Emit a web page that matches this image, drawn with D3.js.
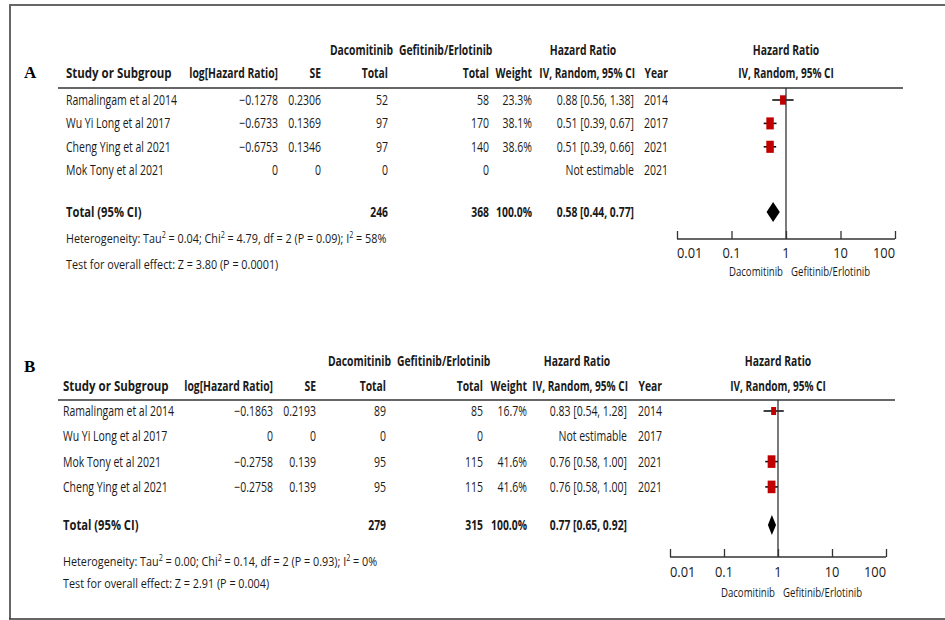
<!DOCTYPE html>
<html>
<head>
<meta charset="utf-8">
<script src="https://cdn.jsdelivr.net/npm/d3@7"></script>
<style>
  body { margin: 0; background: #fff; }
  svg { display: block; }
</style>
</head>
<body>
<svg id="chart" width="945" height="620"></svg>
<script>
// ---- Panel A data ----
const studiesA = ["Ramalingam et al 2014", "Wu Yi Long et al 2017", "Cheng Ying et al 2021", "Mok Tony et al 2021"];
const logHrA   = [-0.1278, -0.6733, -0.6753, 0];
const seA      = [0.2306, 0.1369, 0.1346, 0];
const dacA     = [52, 97, 97, 0];
const gefA     = [58, 170, 140, 0];
const weightA  = [23.3, 38.1, 38.6, null];
const hrA      = [0.88, 0.51, 0.51, null];
const loA      = [0.56, 0.39, 0.39, null];
const hiA      = [1.38, 0.67, 0.66, null];
const yearA    = [2014, 2017, 2021, 2021];
const totalA   = { dac: 246, gef: 368, weight: 100.0, hr: 0.58, lo: 0.44, hi: 0.77 };
const hetA     = { tau2: "0.04", chi2: "4.79", df: 2, p: "0.09", i2: "58", z: "3.80", pz: "0.0001" };

// ---- Panel B data ----
const studiesB = ["Ramalingam et al 2014", "Wu Yi Long et al 2017", "Mok Tony et al 2021", "Cheng Ying et al 2021"];
const logHrB   = [-0.1863, 0, -0.2758, -0.2758];
const seB      = [0.2193, 0, 0.139, 0.139];
const dacB     = [89, 0, 95, 95];
const gefB     = [85, 0, 115, 115];
const weightB  = [16.7, null, 41.6, 41.6];
const hrB      = [0.83, null, 0.76, 0.76];
const loB      = [0.54, null, 0.58, 0.58];
const hiB      = [1.28, null, 1.00, 1.00];
const yearB    = [2014, 2017, 2021, 2021];
const totalB   = { dac: 279, gef: 315, weight: 100.0, hr: 0.77, lo: 0.65, hi: 0.92 };
const hetB     = { tau2: "0.00", chi2: "0.14", df: 2, p: "0.93", i2: "0", z: "2.91", pz: "0.004" };

// ---- Axis ticks and labels ----
const tickValues = [0.01, 0.1, 1, 10, 100];
const tickLabels = ["0.01", "0.1", "1", "10", "100"];
const groupLabels = ["Dacomitinib", "Gefitinib/Erlotinib"];

const svg = d3.select("#chart");
const FONT = "'Open Sans', sans-serif";
const SX = 0.75;          // horizontal squeeze of the table lettering
const INK = "#1a1a1a";

// Text helper: anchored at (x, y), squeezed horizontally about its anchor
function txt(g, x, y, s, opt = {}) {
  const t = g.append("text")
    .attr("transform", `translate(${x},${y}) scale(${opt.sx || SX},1)`)
    .attr("dy", "0.35em")
    .attr("text-anchor", opt.anchor || "start")
    .attr("font-family", opt.family || FONT)
    .attr("font-size", opt.size || 14)
    .attr("font-weight", opt.bold ? "bold" : "normal")
    .attr("fill", opt.fill || INK);
  if (s !== null) t.text(s);
  return t;
}

const f2 = d3.format(".2f");
const f1 = d3.format(".1f");
const numTxt = v => v === 0 ? "0" : String(v).replace("-", "\u2212");
const ciTxt = (h, l, u) => `${f2(h)} [${f2(l)}, ${f2(u)}]`;

// Outer frame
svg.append("line").attr("x1", 10).attr("x2", 945).attr("y1", 5).attr("y2", 5)
  .attr("stroke", "#666").attr("stroke-width", 2);
svg.append("line").attr("x1", 10).attr("x2", 10).attr("y1", 4).attr("y2", 619)
  .attr("stroke", "#666").attr("stroke-width", 2);
svg.append("line").attr("x1", 9).attr("x2", 945).attr("y1", 619).attr("y2", 619)
  .attr("stroke", "#333").attr("stroke-width", 1.5);

function panel(cfg, d) {
  const g = svg.append("g");
  const c = cfg.cols;
  const x = d3.scaleLog().domain([0.01, 100]).range([c.plot0, c.plot1]);
  const xOne = x(1);

  // panel letter
  txt(g, cfg.labelX, cfg.labelY, cfg.label, { family: "'Liberation Serif', serif", bold: true, size: 17, sx: 1, fill: "#000" });

  // group headers
  const hb = { bold: true, sx: 0.74 };
  txt(g, c.dac + 5, cfg.groupY, groupLabels[0], { ...hb, anchor: "end" });
  txt(g, c.dac + 11, cfg.groupY, groupLabels[1], hb);
  txt(g, cfg.hrHeadX, cfg.groupY, "Hazard Ratio", { ...hb, anchor: "middle" });
  txt(g, xOne, cfg.groupY, "Hazard Ratio", { ...hb, anchor: "middle" });

  // column headers
  const hy = cfg.headY;
  txt(g, c.study, hy, "Study or Subgroup", { ...hb, sx: 0.82 });
  txt(g, c.logHr, hy, "log[Hazard Ratio]", { ...hb, anchor: "end" });
  txt(g, c.se, hy, "SE", { ...hb, anchor: "end" });
  txt(g, c.dac, hy, "Total", { ...hb, anchor: "end" });
  txt(g, c.gef, hy, "Total", { ...hb, anchor: "end" });
  txt(g, c.weight, hy, "Weight", { ...hb, anchor: "end" });
  txt(g, c.ci + 1, hy, "IV, Random, 95% CI", { ...hb, anchor: "end", sx: 0.72 });
  txt(g, c.year, hy, "Year", { ...hb, anchor: "end" });
  txt(g, xOne, hy, "IV, Random, 95% CI", { ...hb, anchor: "middle", sx: 0.72 });

  g.append("line").attr("x1", cfg.lineX0).attr("x2", cfg.lineX1)
    .attr("y1", cfg.lineY).attr("y2", cfg.lineY)
    .attr("stroke", "#333").attr("stroke-width", 1.5);

  // study rows
  const rowY = i => cfg.rowY0 + i * cfg.rowStep;
  const boxH = d3.scaleSqrt().domain([0, 100]).range([0, 19.5]);
  d.studies.forEach((s, i) => {
    const y = rowY(i);
    txt(g, c.study, y, s);
    txt(g, c.logHr, y, numTxt(d.logHr[i]), { anchor: "end" });
    txt(g, c.se, y, numTxt(d.se[i]), { anchor: "end" });
    txt(g, c.dac, y, String(d.dac[i]), { anchor: "end" });
    txt(g, c.gef, y, String(d.gef[i]), { anchor: "end" });
    if (d.weight[i] !== null) txt(g, c.weight, y, f1(d.weight[i]) + "%", { anchor: "end" });
    txt(g, c.ci, y, d.hr[i] !== null ? ciTxt(d.hr[i], d.lo[i], d.hi[i]) : "Not estimable", { anchor: "end" });
    txt(g, c.year, y, String(d.year[i]), { anchor: "end" });

    if (d.hr[i] !== null) {
      g.append("line").attr("x1", x(d.lo[i])).attr("x2", x(d.hi[i]))
        .attr("y1", y).attr("y2", y).attr("stroke", "#111").attr("stroke-width", 1.6);
      const h = boxH(d.weight[i]);
      const w = h * 0.62;
      g.append("rect").attr("x", x(d.hr[i]) - w / 2).attr("y", y - h / 2)
        .attr("width", w).attr("height", h).attr("fill", "#c00000");
    }
  });

  // pooled total
  const ty = cfg.totalY;
  const t = d.total;
  txt(g, c.study, ty, "Total (95% CI)", { ...hb, sx: 0.8 });
  txt(g, c.dac, ty, String(t.dac), { ...hb, anchor: "end" });
  txt(g, c.gef, ty, String(t.gef), { ...hb, anchor: "end" });
  txt(g, c.weight, ty, f1(t.weight) + "%", { ...hb, anchor: "end" });
  txt(g, c.ci, ty, ciTxt(t.hr, t.lo, t.hi), { ...hb, anchor: "end" });
  const dh = 10;
  g.append("path")
    .attr("d", `M${x(t.lo)},${ty} L${x(t.hr)},${ty - dh} L${x(t.hi)},${ty} L${x(t.hr)},${ty + dh} Z`)
    .attr("fill", "#000");

  // heterogeneity and overall effect
  const h = d.het;
  const het = txt(g, c.study, cfg.hetY, null, { size: 13.5, sx: 0.8 });
  const sup = (el) => el.append("tspan").attr("dy", -5).attr("font-size", 9).text("2");
  const back = (el, s) => el.append("tspan").attr("dy", 5).text(s);
  het.append("tspan").text("Heterogeneity: Tau");
  sup(het); back(het, ` = ${h.tau2}; Chi`);
  sup(het); back(het, ` = ${h.chi2}, df = ${h.df} (P = ${h.p}); I`);
  sup(het); back(het, ` = ${h.i2}%`);
  txt(g, c.study, cfg.testY, `Test for overall effect: Z = ${h.z} (P = ${h.pz})`, { size: 13.5, sx: 0.8 });

  // reference line at HR = 1
  g.append("line").attr("x1", xOne).attr("x2", xOne)
    .attr("y1", cfg.lineY).attr("y2", cfg.axisY)
    .attr("stroke", "#333").attr("stroke-width", 1.3);

  // log axis with upward ticks
  const axis = d3.axisTop(x).tickValues(tickValues).tickSize(8).tickFormat("");
  const ag = g.append("g").attr("transform", `translate(0,${cfg.axisY})`).call(axis);
  ag.select(".domain").attr("stroke", "#333").attr("stroke-width", 1.5)
    .attr("d", `M${x(0.01)},0H${x(100)}`);
  ag.selectAll(".tick line").attr("stroke", "#333").attr("stroke-width", 1.3);
  tickValues.forEach((v, i) => {
    const anchor = i === 0 ? "start" : (i === tickValues.length - 1 ? "end" : "middle");
    txt(g, x(v), cfg.tickLabY, tickLabels[i], { anchor, size: 14, sx: 0.92 });
  });
  txt(g, xOne - 3, cfg.legendY, groupLabels[0], { anchor: "end", size: 13, sx: 0.74 });
  txt(g, xOne + 5, cfg.legendY, groupLabels[1], { size: 13, sx: 0.74 });
}

panel({
  label: "A", labelX: 24, labelY: 72, groupY: 50, headY: 73, lineY: 88, lineX0: 58, lineX1: 903,
  rowY0: 100, rowStep: 23.4, totalY: 212, hetY: 238, testY: 264,
  axisY: 239, tickLabY: 253, legendY: 271, hrHeadX: 583,
  cols: { study: 66, logHr: 278, se: 321, dac: 388, gef: 489, weight: 532, ci: 634, year: 668, plot0: 677, plot1: 895 }
}, { studies: studiesA, logHr: logHrA, se: seA, dac: dacA, gef: gefA, weight: weightA,
     hr: hrA, lo: loA, hi: hiA, year: yearA, total: totalA, het: hetA });

panel({
  label: "B", labelX: 24, labelY: 366, groupY: 361, headY: 386, lineY: 400, lineX0: 58, lineX1: 895,
  rowY0: 411, rowStep: 25.3, totalY: 525, hetY: 561, testY: 583,
  axisY: 557, tickLabY: 572, legendY: 592, hrHeadX: 577,
  cols: { study: 63, logHr: 273, se: 316, dac: 386, gef: 483, weight: 527, ci: 627, year: 662, plot0: 670, plot1: 886 }
}, { studies: studiesB, logHr: logHrB, se: seB, dac: dacB, gef: gefB, weight: weightB,
     hr: hrB, lo: loB, hi: hiB, year: yearB, total: totalB, het: hetB });
</script>
</body>
</html>
